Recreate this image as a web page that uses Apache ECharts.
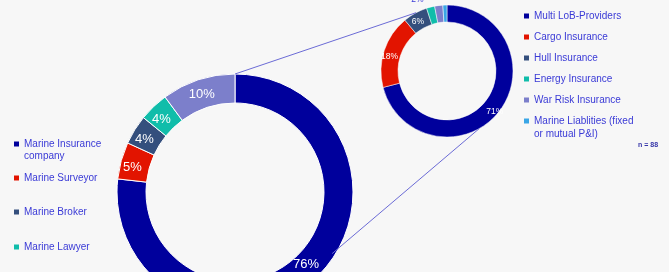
<!DOCTYPE html>
<html>
<head>
<meta charset="utf-8">
<script src="https://cdn.jsdelivr.net/npm/echarts@6/dist/echarts.min.js"></script>
<style>
  html, body { margin: 0; padding: 0; background: #f7f7f7; }
  #chart { width: 669px; height: 272px; }
</style>
</head>
<body>
<div id="chart"></div>
<script>
// ---- data ----
const mainCategories = ['Marine Insurance company', 'Marine Surveyor', 'Marine Broker', 'Marine Lawyer', 'Other'];
const mainValues = [76, 5, 4, 4, 10];
const mainLegendLines = [['Marine Insurance', 'company'], ['Marine Surveyor'], ['Marine Broker'], ['Marine Lawyer']];

const detailCategories = ['Multi LoB-Providers', 'Cargo Insurance', 'Hull Insurance', 'Energy Insurance', 'War Risk Insurance', 'Marine Liablities (fixed or mutual P&I)'];
const detailValues = [71, 18, 6, 2, 2, 1];
const detailLegendLines = [['Multi LoB-Providers'], ['Cargo Insurance'], ['Hull Insurance'], ['Energy Insurance'], ['War Risk Insurance'], ['Marine Liablities (fixed', 'or mutual P&I)']];

const sampleNote = 'n = 88';

// ---- styles ----
const FONT = "'Liberation Sans', Arial, sans-serif";
const mainColors = ['#00009c', '#e21400', '#344f7d', '#10bdaa', '#7c7fcb'];
const detailColors = ['#00009c', '#e21400', '#344f7d', '#10bdaa', '#7c7fcb', '#3aa6e6'];
const legendText = '#3a3ad6';

const big = { cx: 235, cy: 192, r0: 89, r: 118 };
const small = { cx: 447, cy: 71, r0: 49, r: 66 };

const chart = echarts.init(document.getElementById('chart'));

function legendFor(lines, names, left, tops) {
  return names.slice(0, lines.length).map((n, i) => ({
    data: [n],
    left: left,
    top: tops[i] - 6,
    padding: 0,
    orient: 'vertical',
    icon: 'rect',
    itemWidth: 5,
    itemHeight: 5,
    itemStyle: { borderWidth: 0 },
    selectedMode: false,
    formatter: () => lines[i][0],
    textStyle: { fontSize: 10, lineHeight: 12, color: legendText, fontFamily: FONT }
  }));
}

const leftTops = [144, 178, 212, 247];
const rightTops = [16, 37, 58, 79, 100, 121];

const legends = legendFor(mainLegendLines, mainCategories, 14, leftTops)
  .concat(legendFor(detailLegendLines, detailCategories, 524, rightTops));

const graphics = [];
mainLegendLines.forEach((l, i) => {
  if (l[1]) graphics.push({ type: 'text', left: 24, top: leftTops[i] + 7, style: { text: l[1], fill: legendText, font: '10px ' + FONT } });
});
detailLegendLines.forEach((l, i) => {
  if (l[1]) graphics.push({ type: 'text', left: 534, top: rightTops[i] + 8, style: { text: l[1], fill: legendText, font: '10px ' + FONT } });
});
graphics.push({ type: 'text', left: 638, top: 142, style: { text: sampleNote, fill: '#3434a8', font: 'bold 7px ' + FONT } });

function pt(c, rad, deg) {
  const a = deg * Math.PI / 180;
  return [c.cx + rad * Math.cos(a), c.cy - rad * Math.sin(a)];
}
const a1 = pt(big, big.r, 90), b1 = pt(small, small.r, 118);
const a2 = pt(big, 115, -32.4), b2 = pt(small, small.r, -60.8);
[[a1, b1], [a2, b2]].forEach(([p, q]) => {
  graphics.push({ type: 'line', z: 100, shape: { x1: p[0], y1: p[1], x2: q[0], y2: q[1] }, style: { stroke: '#6b6bd6', lineWidth: 1 } });
});

chart.setOption({
  backgroundColor: '#f7f7f7',
  animation: false,
  legend: legends,
  graphic: graphics,
  series: [
    {
      type: 'pie',
      center: [big.cx, big.cy],
      radius: [big.r0, big.r],
      startAngle: 90,
      clockwise: true,
      avoidLabelOverlap: false,
      silent: true,
      itemStyle: { borderColor: '#ffffff', borderWidth: 1 },
      label: {
        show: true, position: 'inside', color: '#ffffff', fontSize: 13, fontFamily: FONT, lineHeight: 8,
        formatter: p => '\n' + p.value + '%'
      },
      labelLine: { show: false },
      data: mainCategories.map((n, i) => ({
        name: n, value: mainValues[i], itemStyle: { color: mainColors[i] },
        label: i === 0 ? { lineHeight: 14, formatter: p => p.value + '%\n' } : undefined
      }))
    },
    {
      type: 'pie',
      center: [small.cx, small.cy],
      radius: [small.r0, small.r],
      startAngle: 90,
      clockwise: true,
      avoidLabelOverlap: false,
      silent: true,
      itemStyle: { borderColor: '#ffffff', borderWidth: 0.5 },
      label: {
        show: true, position: 'inside', color: '#ffffff', fontSize: 8.5, fontFamily: FONT, lineHeight: 8,
        formatter: p => '\n' + p.value + '%'
      },
      labelLine: { show: false, length: 8, length2: 0 },
      data: detailCategories.map((n, i) => ({
        name: n, value: detailValues[i], itemStyle: { color: detailColors[i] },
        label: detailValues[i] < 5 ? { position: 'outside', color: '#3a3ad6', lineHeight: 10, formatter: p => p.value + '%' } : undefined
      }))
    }
  ]
});
</script>
</body>
</html>
